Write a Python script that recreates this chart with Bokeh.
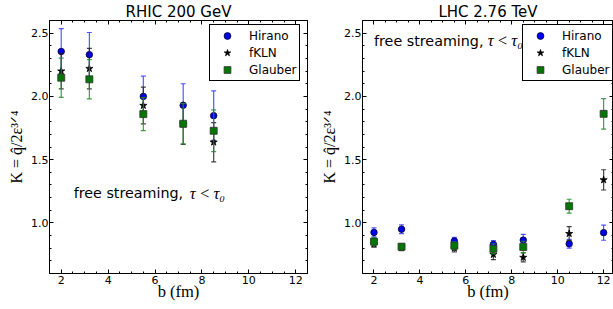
import numpy as np
from bokeh.plotting import figure
from bokeh.layouts import row
from bokeh.models import (LinearAxis, FixedTicker, Label, Legend, LegendItem, Title,
                          ColumnDataSource, Range1d, PrintfTickFormatter)
from bokeh.embed import file_html
from bokeh.resources import INLINE

# ---------------- data ----------------
b_rhic = [2.0, 3.2, 5.5, 7.2, 8.5]
rhic_hirano = [2.355, 2.33, 2.0, 1.93, 1.848]
rhic_hirano_err = [0.18, 0.175, 0.16, 0.17, 0.195]
rhic_fkln = [2.20, 2.22, 1.928, 1.78, 1.638]
rhic_fkln_err = [0.14, 0.16, 0.145, 0.16, 0.155]
rhic_glauber = [2.148, 2.135, 1.86, 1.784, 1.728]
rhic_glauber_err = [0.155, 0.155, 0.13, 0.16, 0.165]

b_lhc = [2.0, 3.2, 5.5, 7.2, 8.5, 10.5, 12.0]
lhc_hirano = [0.925, 0.95, 0.856, 0.83, 0.864, 0.835, 0.923]
lhc_hirano_err = [0.035, 0.035, 0.03, 0.03, 0.045, 0.035, 0.06]
lhc_fkln = [0.833, 0.806, 0.80, 0.75, 0.727, 0.915, 1.34]
lhc_fkln_err = [0.025, 0.025, 0.03, 0.04, 0.035, 0.055, 0.08]
lhc_glauber = [0.852, 0.812, 0.82, 0.795, 0.81, 1.132, 1.862]
lhc_glauber_err = [0.03, 0.025, 0.03, 0.04, 0.045, 0.055, 0.12]

series_names = ["Hirano", "fKLN", "Glauber"]
x_ticks = [2, 4, 6, 8, 10, 12]
y_ticks = [1.0, 1.5, 2.0, 2.5]

titles = ["RHIC 200 GeV", "LHC 2.76 TeV"]
ylab = "K = q\u0302/2\u03b5\u00b3\u141f\u2074"
xlab = "b (fm)"

SANS = "DejaVu Sans"
SERIF = "Liberation Serif"

styles = {
    "Hirano": dict(marker="circle", fill="#0000ee", edge="#000033", bar="#3a3aff", size=6.5),
    "fKLN": dict(marker="star", fill="black", edge="black", bar="#222222", size=7.5),
    "Glauber": dict(marker="square", fill="#007700", edge="#333333", bar="#2a8a2a", size=7),
}


def make_panel(width, mb_left, mb_right, x_end, title, b, series, ann_pos):
    p = figure(width=width, height=309, output_backend="svg", toolbar_location=None,
               x_axis_type=None, y_axis_type=None,
               x_range=Range1d(1.5, x_end), y_range=Range1d(0.6, 2.6),
               min_border_left=mb_left, min_border_right=mb_right,
               min_border_top=19, min_border_bottom=36)
    p.outline_line_color = "black"
    p.outline_line_width = 1
    p.outline_line_alpha = 1
    p.background_fill_color = "white"
    p.border_fill_color = "white"

    xt = FixedTicker(ticks=x_ticks, minor_ticks=list(np.arange(1.5, 13.0, 0.5)))
    yt = FixedTicker(ticks=y_ticks, minor_ticks=list(np.round(np.arange(0.6, 2.61, 0.1), 2)))

    def style_axis(ax, ticks, show_labels):
        ax.axis_line_color = None
        ax.major_tick_in = 4
        ax.major_tick_out = 0
        ax.minor_tick_in = 2
        ax.minor_tick_out = 0
        ax.major_tick_line_color = "black"
        ax.minor_tick_line_color = "black"
        ax.major_label_text_font = SANS
        ax.major_label_text_font_size = "11px"
        ax.major_label_text_color = "black"
        if show_labels:
            ax.major_label_standoff = 1
        else:
            ax.major_label_overrides = {t: "" for t in ticks}
            ax.major_label_standoff = 0

    bottom = LinearAxis(ticker=xt, axis_label=xlab)
    style_axis(bottom, x_ticks, True)
    bottom.major_label_standoff = 2
    bottom.axis_label_text_font = SERIF
    bottom.axis_label_text_font_size = "16.5px"
    bottom.axis_label_text_font_style = "normal"
    bottom.axis_label_text_color = "black"
    bottom.axis_label_standoff = -5
    top = LinearAxis(ticker=xt)
    style_axis(top, x_ticks, False)
    left = LinearAxis(ticker=yt, axis_label=ylab, formatter=PrintfTickFormatter(format="%.1f"))
    style_axis(left, y_ticks, True)
    left.axis_label_text_font = SERIF
    left.axis_label_text_font_size = "16px"
    left.axis_label_text_font_style = "normal"
    left.axis_label_text_color = "black"
    left.axis_label_standoff = 3
    right = LinearAxis(ticker=yt)
    style_axis(right, y_ticks, False)
    p.add_layout(bottom, "below")
    p.add_layout(top, "above")
    p.add_layout(left, "left")
    p.add_layout(right, "right")

    p.add_layout(Title(text=title, align="center", text_font=SANS, text_font_size="15px",
                       text_font_style="normal", text_color="black", standoff=0), "above")

    # free streaming annotation
    ax_, ay_ = ann_pos
    p.add_layout(Label(x=ax_, y=ay_, text="free streaming,", text_align="left", text_baseline="middle",
                       text_font=SANS, text_font_size="14.3px", text_color="black"))
    p.add_layout(Label(x=ax_ + 4.95, y=ay_, text="\u03c4\u2009<\u2009\u03c4\u2080", text_align="left",
                       text_baseline="middle", text_font=SERIF, text_font_style="italic",
                       text_font_size="16.5px", text_color="black"))

    items = []
    for name in series_names:
        vals, errs = series[name]
        st = styles[name]
        lo = [v - e for v, e in zip(vals, errs)]
        hi = [v + e for v, e in zip(vals, errs)]
        src = ColumnDataSource(dict(b=b, v=vals, lo=lo, hi=hi))
        p.segment(x0="b", y0="lo", x1="b", y1="hi", source=src, line_color=st["bar"],
                  line_width=1.2, line_alpha=0.85)
        p.scatter(x="b", y="lo", source=src, marker="dash", size=5, line_color=st["bar"],
                  line_width=1.2, line_alpha=0.85)
        p.scatter(x="b", y="hi", source=src, marker="dash", size=5, line_color=st["bar"],
                  line_width=1.2, line_alpha=0.85)
        mk = p.scatter(x="b", y="v", source=src, marker=st["marker"], size=st["size"],
                       fill_color=st["fill"], line_color=st["edge"], line_width=0.8)
        items.append(LegendItem(label=name, renderers=[mk]))

    legend = Legend(items=items, location=(160, 192), glyph_width=30, glyph_height=17,
                    label_height=17, spacing=0, padding=2, label_standoff=7, margin=0,
                    border_line_color="black", border_line_width=1, border_line_alpha=1,
                    background_fill_color="white", background_fill_alpha=1,
                    label_text_font=SANS, label_text_font_size="12px", label_text_color="black")
    p.add_layout(legend)
    return p


p1 = make_panel(318, 49, 11, 12.5, titles[0], b_rhic,
                {"Hirano": (rhic_hirano, rhic_hirano_err),
                 "fKLN": (rhic_fkln, rhic_fkln_err),
                 "Glauber": (rhic_glauber, rhic_glauber_err)},
                (2.53, 1.234))
p2 = make_panel(295, 40, 0, 12.43, titles[1], b_lhc,
                {"Hirano": (lhc_hirano, lhc_hirano_err),
                 "fKLN": (lhc_fkln, lhc_fkln_err),
                 "Glauber": (lhc_glauber, lhc_glauber_err)},
                (2.0, 2.44))

layout = row(p1, p2)
open("out.html", "w").write(file_html(layout, INLINE))
